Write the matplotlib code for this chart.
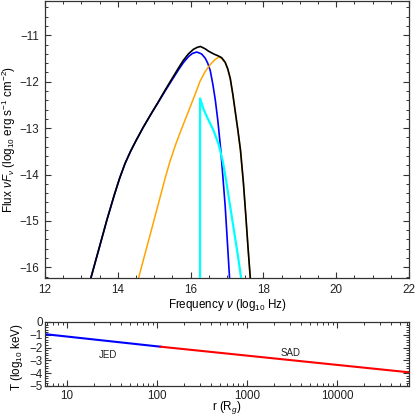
import numpy as np
import matplotlib
matplotlib.use("Agg")
import matplotlib.pyplot as plt
from matplotlib.ticker import MultipleLocator, LogLocator, NullFormatter, FixedLocator

plt.rcParams['font.family'] = ['Liberation Sans', 'DejaVu Sans']
plt.rcParams['mathtext.fontset'] = 'custom'
plt.rcParams['mathtext.rm'] = 'Liberation Sans'
plt.rcParams['mathtext.it'] = 'Liberation Sans:italic'
plt.rcParams['mathtext.bf'] = 'Liberation Sans:bold'

# ---- SED data (log10 nu, log10 nuFnu) ----
total_x = [13.26, 13.50, 13.70, 13.90, 14.05, 14.20, 14.35, 14.50, 14.70, 14.94, 15.10, 15.30,
           15.50, 15.67, 15.80, 15.94, 16.08, 16.18, 16.27, 16.40, 16.49, 16.63, 16.75, 16.85,
           16.95, 17.02, 17.09, 17.16, 17.23, 17.30, 17.37, 17.45, 17.52, 17.58, 17.64]
total_y = [-16.23, -15.55, -14.98, -14.45, -14.08, -13.76, -13.50, -13.27, -12.98, -12.66, -12.45, -12.18,
           -11.92, -11.70, -11.54, -11.40, -11.30, -11.26, -11.24, -11.29, -11.34, -11.40, -11.44, -11.48,
           -11.58, -11.72, -11.93, -12.27, -12.66, -13.05, -13.47, -14.17, -14.92, -15.60, -16.23]

jed_x = [13.26, 13.50, 13.70, 13.90, 14.05, 14.20, 14.35, 14.50, 14.70, 14.94, 15.10, 15.30,
         15.50, 15.67, 15.80, 15.94, 16.05, 16.17, 16.30, 16.40, 16.47, 16.54, 16.61, 16.68,
         16.75, 16.83, 16.95, 17.01, 17.07]
jed_y = [-16.23, -15.55, -14.98, -14.45, -14.08, -13.76, -13.50, -13.27, -12.98, -12.66, -12.46, -12.20,
         -11.95, -11.74, -11.59, -11.46, -11.39, -11.36, -11.40, -11.49, -11.60, -11.76, -12.05, -12.40,
         -12.85, -13.48, -14.68, -15.45, -16.23]

sad_x = [14.57, 15.00, 15.30, 15.44, 15.60, 15.76, 15.88, 15.99, 16.12, 16.26, 16.40, 16.54,
         16.66, 16.77, 16.85, 16.95, 17.02, 17.09, 17.16, 17.23, 17.30, 17.37, 17.45, 17.52,
         17.58, 17.64]
sad_y = [-16.23, -14.97, -14.08, -13.70, -13.33, -13.00, -12.76, -12.54, -12.28, -11.99, -11.78, -11.63,
         -11.53, -11.47, -11.49, -11.59, -11.73, -11.94, -12.28, -12.67, -13.06, -13.48, -14.18, -14.93,
         -15.61, -16.24]

cor_x = [16.26, 16.26, 16.35, 16.45, 16.63, 16.77, 16.88, 16.97, 17.09, 17.20, 17.30, 17.40]
cor_y = [-16.30, -12.36, -12.58, -12.76, -13.05, -13.35, -13.70, -14.10, -14.70, -15.25, -15.75, -16.30]

# ---- temperature profile ----
jed_r = [5.75, 110.0]
jed_T = [-0.95, -1.93]
sad_r = [110.0, 63000.0]
sad_T = [-1.93, -3.93]

W, H = 415, 417
fig = plt.figure(figsize=(W / 100, H / 100), dpi=100)

axc = '#333333'
fs = 8.4

ax1 = fig.add_axes([45 / W, 1 - 278 / H, 364 / W, 277 / H])
ax1.plot(jed_x, jed_y, color='blue', lw=1.2, zorder=2)
ax1.plot(sad_x, sad_y, color='orange', lw=1.1, zorder=2)
ax1.plot(cor_x, cor_y, color='cyan', lw=1.6, zorder=3)
ax1.plot(total_x, total_y, color='black', lw=1.2, zorder=4)
ax1.set_xlim(12, 22)
ax1.set_ylim(-16.23, -10.26)
ax1.xaxis.set_major_locator(MultipleLocator(2))
ax1.xaxis.set_minor_locator(MultipleLocator(0.5))
ax1.yaxis.set_major_locator(MultipleLocator(1))
ax1.yaxis.set_minor_locator(MultipleLocator(0.2))
ax1.set_xlabel(r'Frequency $\nu$ (log$_{10}$ Hz)', fontsize=fs)
ax1.set_ylabel(r'Flux $\nu F_\nu$ (log$_{10}$ erg s$^{-1}$ cm$^{-2}$)', fontsize=fs)
ax1.xaxis.set_label_coords(0.5, -0.098)
ax1.yaxis.set_label_coords(-0.1, 0.5)
ax1.yaxis.label.set_va('center')
ax1.xaxis.label.set_va('center')

ax2 = fig.add_axes([45 / W, 1 - 386 / H, 364 / W, 64 / H])
ax2.plot(jed_r, jed_T, color='blue', lw=1.5)
ax2.plot(sad_r, sad_T, color='red', lw=1.5)
ax2.set_xscale('log')
ax2.set_xlim(5.75, 63000)
ax2.set_ylim(-5, 0)
ax2.xaxis.set_major_locator(FixedLocator([10, 100, 1000, 10000]))
ax2.set_xticklabels(['10', '100', '1000', '10000'])
ax2.xaxis.set_minor_locator(LogLocator(base=10, subs=np.arange(2, 10)))
ax2.xaxis.set_minor_formatter(NullFormatter())
ax2.yaxis.set_major_locator(MultipleLocator(1))
ax2.yaxis.set_minor_locator(MultipleLocator(0.2))
ax2.set_xlabel(r'r (R$_g$)', fontsize=fs)
ax2.set_ylabel(r'T (log$_{10}$ keV)', fontsize=fs)
ax2.xaxis.set_label_coords(0.5, -0.34)
ax2.xaxis.label.set_va('center')
ax2.yaxis.set_label_coords(-0.078, 0.45)
ax2.yaxis.label.set_va('center')
ax2.text(28.8, -2.55, 'JED', fontsize=7, ha='center', va='center', color='#222222')
ax2.text(3080, -2.45, 'SAD', fontsize=7, ha='center', va='center', color='#222222')

for ax in (ax1, ax2):
    for s in ax.spines.values():
        s.set_color(axc)
        s.set_linewidth(0.9)
    ax.tick_params(which='both', direction='in', top=True, right=True, colors=axc,
                   labelcolor='#222222', labelsize=fs)
    ax.tick_params(which='major', length=4.5, width=0.8, pad=4)
    ax.tick_params(which='minor', length=2.2, width=0.7)

ax2.tick_params(axis='y', which='major', pad=1.5)
ax2.tick_params(axis='x', which='major', pad=3)

fig.savefig('out.png', dpi=100)
